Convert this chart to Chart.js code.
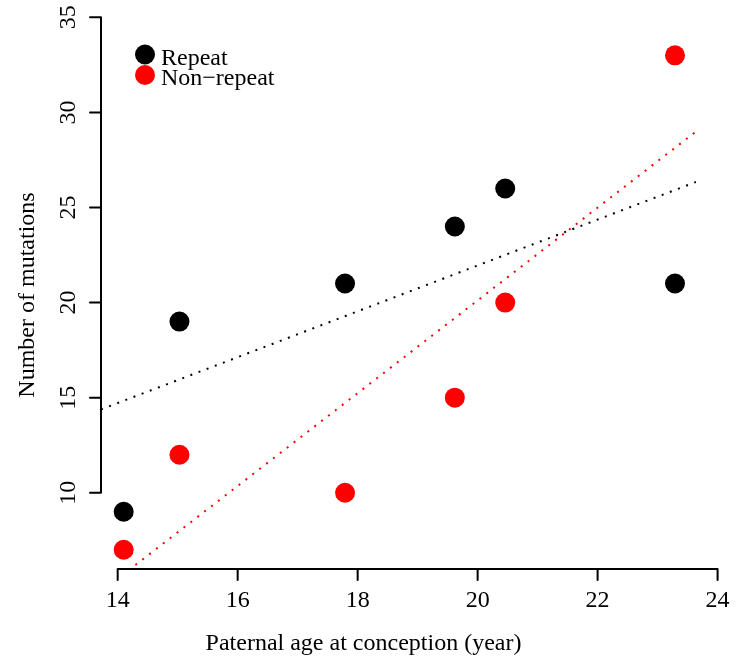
<!DOCTYPE html>
<html>
<head>
<meta charset="utf-8">
<script src="https://cdn.jsdelivr.net/npm/chart.js@4/dist/chart.umd.min.js"></script>
<style>
  html, body { margin: 0; padding: 0; background: #fff; }
  #wrap { width: 736px; height: 664px; }
</style>
</head>
<body>
<div id="wrap"><canvas id="c" width="736" height="664"></canvas></div>
<script>
// ---- data ----
const paternalAges = [14.10, 15.03, 17.79, 19.62, 20.46, 23.29];
const repeatMutations = [9, 19, 21, 24, 26, 21];
const nonRepeatMutations = [7, 12, 10, 15, 20, 33];
const seriesLabels = ['Repeat', 'Non\u2212repeat'];
const seriesColors = ['#000000', '#ff0000'];
const xTicks = [14, 16, 18, 20, 22, 24];
const yTicks = [10, 15, 20, 25, 30, 35];
const xTitle = 'Paternal age at conception (year)';
const yTitle = 'Number of mutations';

// plot region range (R usr)
const xRange = [13.722, 23.64];
const yRange = [5.99, 35.91];

function fit(xs, ys) {
  const n = xs.length;
  const mx = xs.reduce((a, b) => a + b, 0) / n;
  const my = ys.reduce((a, b) => a + b, 0) / n;
  let sxy = 0, sxx = 0;
  for (let i = 0; i < n; i++) { sxy += (xs[i] - mx) * (ys[i] - my); sxx += (xs[i] - mx) ** 2; }
  const b = sxy / sxx, a = my - b * mx;
  return xRange.map(x => ({ x: x, y: a + b * x }));
}
const toPts = (xs, ys) => xs.map((x, i) => ({ x: x, y: ys[i] }));

const FONT = '24px "Liberation Serif", "Times New Roman", serif';

const rPlot = {
  id: 'rPlot',
  afterDraw(chart) {
    const { ctx, chartArea, scales } = chart;
    const x = scales.x, y = scales.y;
    ctx.save();
    ctx.strokeStyle = '#000';
    ctx.fillStyle = '#000';
    ctx.lineWidth = 2;
    ctx.lineCap = 'round';
    ctx.font = FONT;
    // x axis
    const yb = chartArea.bottom;
    ctx.beginPath();
    ctx.moveTo(x.getPixelForValue(xTicks[0]), yb);
    ctx.lineTo(x.getPixelForValue(xTicks[xTicks.length - 1]), yb);
    xTicks.forEach(v => { const p = x.getPixelForValue(v); ctx.moveTo(p, yb); ctx.lineTo(p, yb + 11); });
    ctx.stroke();
    ctx.textAlign = 'center';
    ctx.textBaseline = 'alphabetic';
    xTicks.forEach(v => ctx.fillText(String(v), x.getPixelForValue(v), yb + 38));
    // y axis
    const xl = chartArea.left;
    ctx.beginPath();
    ctx.moveTo(xl, y.getPixelForValue(yTicks[0]));
    ctx.lineTo(xl, y.getPixelForValue(yTicks[yTicks.length - 1]));
    yTicks.forEach(v => { const p = y.getPixelForValue(v); ctx.moveTo(xl, p); ctx.lineTo(xl - 11, p); });
    ctx.stroke();
    yTicks.forEach(v => {
      ctx.save();
      ctx.translate(xl - 26, y.getPixelForValue(v));
      ctx.rotate(-Math.PI / 2);
      ctx.fillText(String(v), 0, 0);
      ctx.restore();
    });
    // titles
    ctx.fillText(xTitle, 363.5, 650);
    ctx.save();
    ctx.translate(34, 295);
    ctx.rotate(-Math.PI / 2);
    ctx.fillText(yTitle, 0, 0);
    ctx.restore();
    // legend
    ctx.textAlign = 'left';
    seriesLabels.forEach((lab, i) => {
      const cy = 54.5 + i * 20.5;
      ctx.beginPath();
      ctx.fillStyle = seriesColors[i];
      ctx.arc(145, cy, 10, 0, Math.PI * 2);
      ctx.fill();
      ctx.fillStyle = '#000';
      ctx.fillText(lab, 161, cy + 10);
    });
    ctx.restore();
  }
};

new Chart(document.getElementById('c'), {
  type: 'scatter',
  data: {
    datasets: [
      { label: seriesLabels[0], data: toPts(paternalAges, repeatMutations), backgroundColor: seriesColors[0], borderColor: seriesColors[0], pointRadius: 10, pointBorderWidth: 0, pointHoverRadius: 10, order: 2, clip: false },
      { label: seriesLabels[1], data: toPts(paternalAges, nonRepeatMutations), backgroundColor: seriesColors[1], borderColor: seriesColors[1], pointRadius: 10, pointBorderWidth: 0, pointHoverRadius: 10, order: 2, clip: false },
      { label: 'fit ' + seriesLabels[0], data: fit(paternalAges, repeatMutations), showLine: true, pointRadius: 0, borderColor: seriesColors[0], borderWidth: 2, borderDash: [2, 6.7], borderCapStyle: 'butt', order: 1 },
      { label: 'fit ' + seriesLabels[1], data: fit(paternalAges, nonRepeatMutations), showLine: true, pointRadius: 0, borderColor: seriesColors[1], borderWidth: 2, borderDash: [2, 6.7], borderCapStyle: 'butt', order: 1 }
    ]
  },
  options: {
    responsive: false,
    animation: false,
    devicePixelRatio: 1,
    layout: { autoPadding: false, padding: { left: 101, right: 40, top: 0, bottom: 95 } },
    plugins: { legend: { display: false }, tooltip: { enabled: false }, title: { display: false } },
    scales: {
      x: { type: 'linear', min: xRange[0], max: xRange[1], display: false },
      y: { type: 'linear', min: yRange[0], max: yRange[1], display: false }
    }
  },
  plugins: [rPlot]
});
</script>
</body>
</html>
